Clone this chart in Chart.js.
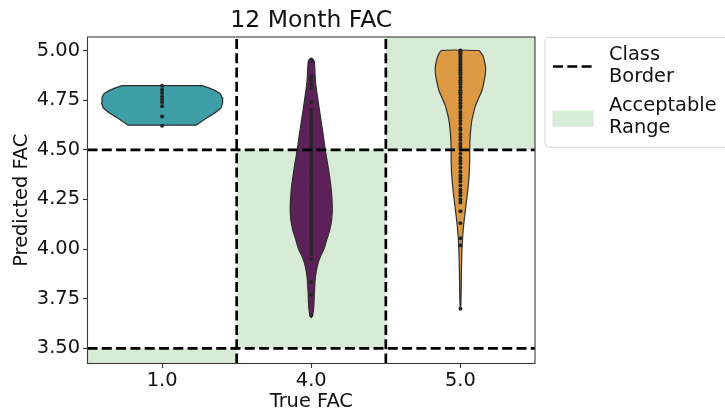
<!DOCTYPE html>
<html>
<head>
<meta charset="utf-8">
<script src="https://cdn.jsdelivr.net/npm/chart.js@4.4.0/dist/chart.umd.min.js"></script>
<style>
  html, body { margin: 0; padding: 0; background: #fff; }
</style>
</head>
<body>
<canvas id="fac" width="725" height="414"></canvas>
<script>
(function () {
    "use strict";

    const categories = ['1.0', '4.0', '5.0']
    const yTicks = [3.5, 3.75, 4.0, 4.25, 4.5, 4.75, 5.0]
    const yMin = 3.424
    const yMax = 5.068

    // class borders (dashed) and acceptable ranges per true class
    const classBorderX = [0.5, 1.5]
    const classBorderY = [3.5, 4.5]
    const acceptLow = [2.0, 3.5, 4.5]
    const acceptHigh = [3.5, 4.5, 6.0]

    // violin outlines: level -> half width (in category units)
    const v1Level = [4.823, 4.813, 4.798, 4.783, 4.763, 4.737, 4.712, 4.687, 4.662, 4.641, 4.624]
    const v1Half = [0.268, 0.309, 0.356, 0.389, 0.403, 0.406, 0.396, 0.356, 0.302, 0.262, 0.228]

    const v2Level = [4.958, 4.953, 4.94, 4.84, 4.75, 4.66, 4.58, 4.50, 4.40, 4.30, 4.21, 4.15, 4.10, 4.05, 4.00, 3.96, 3.92, 3.86, 3.78, 3.70, 3.665, 3.655]
    const v2Half = [0.0, 0.015, 0.021, 0.029, 0.045, 0.063, 0.079, 0.094, 0.116, 0.134, 0.141, 0.137, 0.125, 0.105, 0.085, 0.060, 0.042, 0.028, 0.021, 0.016, 0.008, 0.0]

    const v3Level = [5.0, 4.975, 4.95, 4.92, 4.887, 4.85, 4.80, 4.76, 4.72, 4.68, 4.635, 4.55, 4.45, 4.38, 4.30, 4.20, 4.10, 4.01, 3.90, 3.80, 3.72, 3.70]
    const v3Half = [0.126, 0.150, 0.160, 0.168, 0.168, 0.160, 0.145, 0.122, 0.100, 0.086, 0.074, 0.064, 0.062, 0.059, 0.050, 0.034, 0.019, 0.011, 0.007, 0.005, 0.003, 0.0]

    // individual predictions (inner points)
    const v1Dots = [4.823, 4.803, 4.786, 4.769, 4.753, 4.739, 4.719, 4.668, 4.621]
    const v2Dots = [4.955, 4.95, 4.87, 4.85, 4.83, 4.81, 4.74, 4.70, 4.68, 4.66, 4.645, 4.63, 4.61, 4.59, 4.575, 4.56, 4.54, 4.52, 4.505, 4.49, 4.47, 4.455, 4.44, 4.42, 4.40, 4.385, 4.37, 4.35, 4.335, 4.32, 4.30, 4.29, 4.27, 4.255, 4.24, 4.22, 4.21, 4.195, 4.18, 4.165, 4.15, 4.13, 4.12, 4.10, 4.085, 4.07, 4.05, 4.03, 4.01, 3.99, 3.975, 3.95, 3.835, 3.77, 3.667]
    const v3Dots = [5.0, 4.995, 4.99, 4.98, 4.97, 4.96, 4.95, 4.94, 4.93, 4.92, 4.91, 4.90, 4.89, 4.88, 4.865, 4.85, 4.84, 4.83, 4.815, 4.80, 4.79, 4.78, 4.765, 4.75, 4.735, 4.72, 4.71, 4.69, 4.675, 4.66, 4.645, 4.63, 4.61, 4.60, 4.58, 4.565, 4.55, 4.53, 4.515, 4.50, 4.48, 4.46, 4.445, 4.43, 4.41, 4.39, 4.37, 4.355, 4.34, 4.32, 4.30, 4.285, 4.27, 4.25, 4.235, 4.19, 4.13, 4.055, 4.02, 3.70]

    const teal = '#3e9ea8'
    const purple = '#5b2158'
    const orange = '#dd9943'
    const green = '#d8ebd6'
    const edge = '#2e2e2e'
    const dotColor = '#262626'
    const font = 'DejaVu Sans'

    // closed outline: right side top->bottom then left side bottom->top
    function violinOutline(center, levels, halfs) {
        const right = levels.map((y, i) => ({ x: center + halfs[i], y: y }))
        const left = levels.map((y, i) => ({ x: center - halfs[i], y: y })).reverse()
        return right.concat(left, [right[0]])
    }

    function rect(x0, x1, y0, y1) {
        return [{ x: x0, y: y0 }, { x: x1, y: y0 }, { x: x1, y: y1 }, { x: x0, y: y1 }, { x: x0, y: y0 }]
    }

    const datasets = []

    // acceptable ranges
    categories.forEach(function (c, i) {
        datasets.push({
            type: 'line',
            label: 'Acceptable Range',
            data: rect(i - 0.5, i + 0.5, acceptLow[i], acceptHigh[i]),
            fill: 'shape',
            backgroundColor: green,
            borderWidth: 0,
            pointRadius: 0,
            tension: 0,
            order: 10
        })
    })

    const violins = [[v1Level, v1Half, teal, 0], [v2Level, v2Half, purple, 0.3], [v3Level, v3Half, orange, 0.3]]
    violins.forEach(function (v, i) {
        datasets.push({
            type: 'line',
            label: categories[i],
            data: violinOutline(i, v[0], v[1]),
            fill: 'shape',
            backgroundColor: v[2],
            borderColor: edge,
            borderWidth: 1.2,
            borderJoinStyle: 'round',
            pointRadius: 0,
            tension: v[3],
            order: 5
        })
    })

    const dots = [v1Dots, v2Dots, v3Dots]
    dots.forEach(function (d, i) {
        datasets.push({
            type: 'scatter',
            label: 'points ' + categories[i],
            data: d.map(y => ({ x: i, y: y })),
            pointRadius: 2,
            pointBackgroundColor: dotColor,
            pointBorderWidth: 0,
            order: 3
        })
    })

    // class borders
    classBorderX.forEach(function (x) {
        datasets.push({
            type: 'line', label: 'Class Border',
            data: [{ x: x, y: yMin }, { x: x, y: yMax }],
            borderColor: '#000', borderWidth: 2.7, borderDash: [10, 4.3],
            pointRadius: 0, fill: false, order: 1
        })
    })
    classBorderY.forEach(function (y) {
        datasets.push({
            type: 'line', label: 'Class Border',
            data: [{ x: -0.5, y: y }, { x: 2.5, y: y }],
            borderColor: '#000', borderWidth: 2.7, borderDash: [10, 4.3],
            pointRadius: 0, fill: false, order: 1
        })
    })

    // box round the axes (all four spines)
    const frame = {
        id: 'frame',
        afterDatasetsDraw(chart) {
            const a = chart.chartArea
            const ctx = chart.ctx
            ctx.save()
            ctx.strokeStyle = '#3a3a3a'
            ctx.lineWidth = 1.1
            ctx.strokeRect(a.left, a.top, a.right - a.left, a.bottom - a.top)
            ctx.restore()
        }
    }

    // legend outside the axes on the right
    const sideLegend = {
        id: 'sideLegend',
        afterDraw(chart) {
            const ctx = chart.ctx
            const x0 = chart.chartArea.right + 10
            const y0 = 37.3
            ctx.save()
            ctx.beginPath()
            ctx.roundRect(x0, y0, 200, 110, 4)
            ctx.fillStyle = 'rgba(255,255,255,0.8)'
            ctx.fill()
            ctx.strokeStyle = '#d5d5d5'
            ctx.lineWidth = 1
            ctx.stroke()

            ctx.beginPath()
            ctx.setLineDash([10, 4.3])
            ctx.lineWidth = 2.7
            ctx.strokeStyle = '#000'
            ctx.moveTo(x0 + 8, 66.5)
            ctx.lineTo(x0 + 48, 66.5)
            ctx.stroke()
            ctx.setLineDash([])

            ctx.fillStyle = green
            ctx.fillRect(x0 + 7.5, 110.7, 41, 16)

            ctx.fillStyle = '#111'
            ctx.font = '19.4px "' + font + '"'
            ctx.textBaseline = 'alphabetic'
            ctx.textAlign = 'left'
            ctx.fillText('Class', x0 + 64, 59.5)
            ctx.fillText('Border', x0 + 64, 82)
            ctx.fillText('Acceptable', x0 + 64, 110.5)
            ctx.fillText('Range', x0 + 64, 133)
            ctx.restore()
        }
    }

    new Chart(document.getElementById('fac'), {
        type: 'scatter',
        data: { datasets: datasets },
        plugins: [frame, sideLegend],
        options: {
            responsive: false,
            animation: false,
            layout: { padding: { left: 0, right: 190, top: 0, bottom: 0 } },
            plugins: {
                legend: { display: false },
                tooltip: { enabled: false },
                title: {
                    display: true,
                    fullSize: false,
                    text: '12 Month FAC',
                    color: '#111',
                    font: { family: font, size: 23.5, weight: 'normal' },
                    padding: { top: 6.9, bottom: 1.9 }
                }
            },
            scales: {
                x: {
                    type: 'linear',
                    min: -0.5,
                    max: 2.5,
                    afterBuildTicks: function (scale) {
                        scale.ticks = categories.map((c, i) => ({ value: i }))
                    },
                    afterFit: function (scale) { scale.height = 50.5 },
                    ticks: {
                        callback: (v) => categories[v],
                        color: '#111',
                        padding: 1,
                        font: { family: font, size: 19.4 }
                    },
                    grid: { display: true, drawOnChartArea: false, tickLength: 4.5, tickColor: '#333', tickWidth: 1.1 },
                    border: { display: false },
                    title: {
                        display: true, text: 'True FAC', color: '#111',
                        font: { family: font, size: 19.4 },
                        padding: { top: 0, bottom: 0.5 }
                    }
                },
                y: {
                    min: yMin,
                    max: yMax,
                    afterBuildTicks: function (scale) {
                        scale.ticks = yTicks.map(v => ({ value: v }))
                    },
                    afterFit: function (scale) { scale.width = 87.5 },
                    ticks: {
                        callback: (v) => v.toFixed(2),
                        color: '#111',
                        padding: 3,
                        font: { family: font, size: 19.4 }
                    },
                    grid: { display: true, drawOnChartArea: false, tickLength: 4.5, tickColor: '#333', tickWidth: 1.1 },
                    border: { display: false },
                    title: {
                        display: true, text: 'Predicted FAC', color: '#111',
                        font: { family: font, size: 19.4 },
                        padding: { top: 10.5, bottom: 0 }
                    }
                }
            }
        }
    })
})();
</script>
</body>
</html>
